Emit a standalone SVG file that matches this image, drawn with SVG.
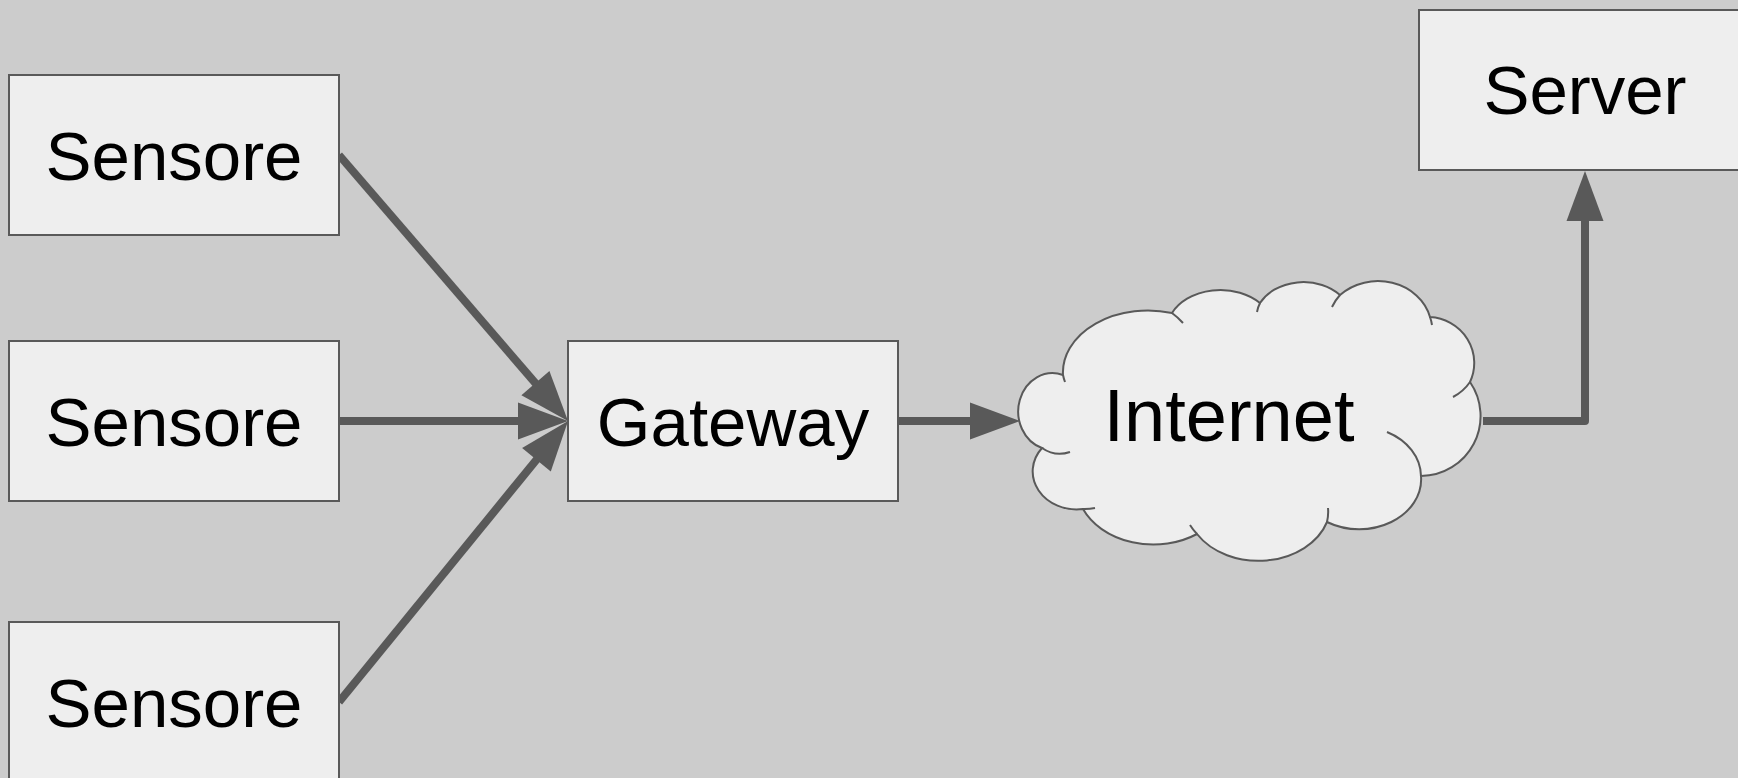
<svg xmlns="http://www.w3.org/2000/svg" width="1738" height="778" viewBox="0 0 1738 778">
<style>
.box{fill:#eeeeee;stroke:#595959;stroke-width:2}
.lbl{font-family:"Liberation Sans",Arial,sans-serif;font-size:69px;fill:#000000;text-anchor:middle}
.conn{fill:none;stroke:#595959;stroke-width:8;stroke-linejoin:round}
.deco{fill:none;stroke:#595959;stroke-width:2}
</style>
<defs>
<marker id="ah" markerUnits="userSpaceOnUse" viewBox="0 -19 50 38" markerWidth="50" markerHeight="38" refX="2" refY="0" orient="auto" overflow="visible">
<path d="M0,-18.5 L50,0 L0,18.5 Z" fill="#595959"/>
</marker>
</defs>
<rect x="0" y="0" width="1738" height="778" fill="#cccccc"/>
<g id="connectors">
<path class="conn" d="M339,155 L536.7,384.6" marker-end="url(#ah)"/>
<path class="conn" d="M339,421 L520,421" marker-end="url(#ah)"/>
<path class="conn" d="M339,702 L537.7,458.2" marker-end="url(#ah)"/>
<path class="conn" d="M898,421 L972,421" marker-end="url(#ah)"/>
<path class="conn" d="M1483,421 H1585 V219" marker-end="url(#ah)"/>
</g>
<g id="sensor1">
<rect class="box" x="9" y="75" width="330" height="160"/>
<text class="lbl" x="174" y="180">Sensore</text>
</g>
<g id="sensor2">
<rect class="box" x="9" y="341" width="330" height="160"/>
<text class="lbl" x="174" y="446">Sensore</text>
</g>
<g id="sensor3">
<rect class="box" x="9" y="622" width="330" height="160"/>
<text class="lbl" x="174" y="727">Sensore</text>
</g>
<g id="gateway">
<rect class="box" x="568" y="341" width="330" height="160"/>
<text class="lbl" x="733" y="446">Gateway</text>
</g>
<g id="internet">
<path class="box" d="M1042,448 A34,38 0 0 1 1063,375 A85,62 0 0 1 1172,313 A53.5,40 0 0 1 1260,303 A49,38.8 0 0 1 1340,295 A53.6,47.3 0 0 1 1430,317 A47,46 0 0 1 1470,382 A60,60 0 0 1 1421,476 A62,50 0 0 1 1327,522 A72,56 0 0 1 1197,534 A77,60 0 0 1 1083,509 A44,38 0 0 1 1042,448 Z"/>
<path class="deco" d="M1042,448 A34,38 0 0 0 1070,452 M1083,509 A44,38 0 0 0 1095,508 M1197,534 A72,56 0 0 1 1190,525 M1327,522 A72,56 0 0 0 1328,508 M1421,476 A62,50 0 0 0 1387,432 M1470,382 A47,46 0 0 1 1453,397 M1430,317 A53.6,47.3 0 0 1 1432,325 M1340,295 A53.6,47.3 0 0 0 1332,307 M1260,303 A49,38.8 0 0 0 1257,312 M1172,313 A85,62 0 0 1 1183,323 M1063,375 A85,62 0 0 0 1065,382"/>
<text class="lbl" x="1229" y="441" style="font-size:74px">Internet</text>
</g>
<g id="server">
<rect class="box" x="1419" y="10" width="330" height="160"/>
<text class="lbl" x="1585" y="114">Server</text>
</g>
</svg>
